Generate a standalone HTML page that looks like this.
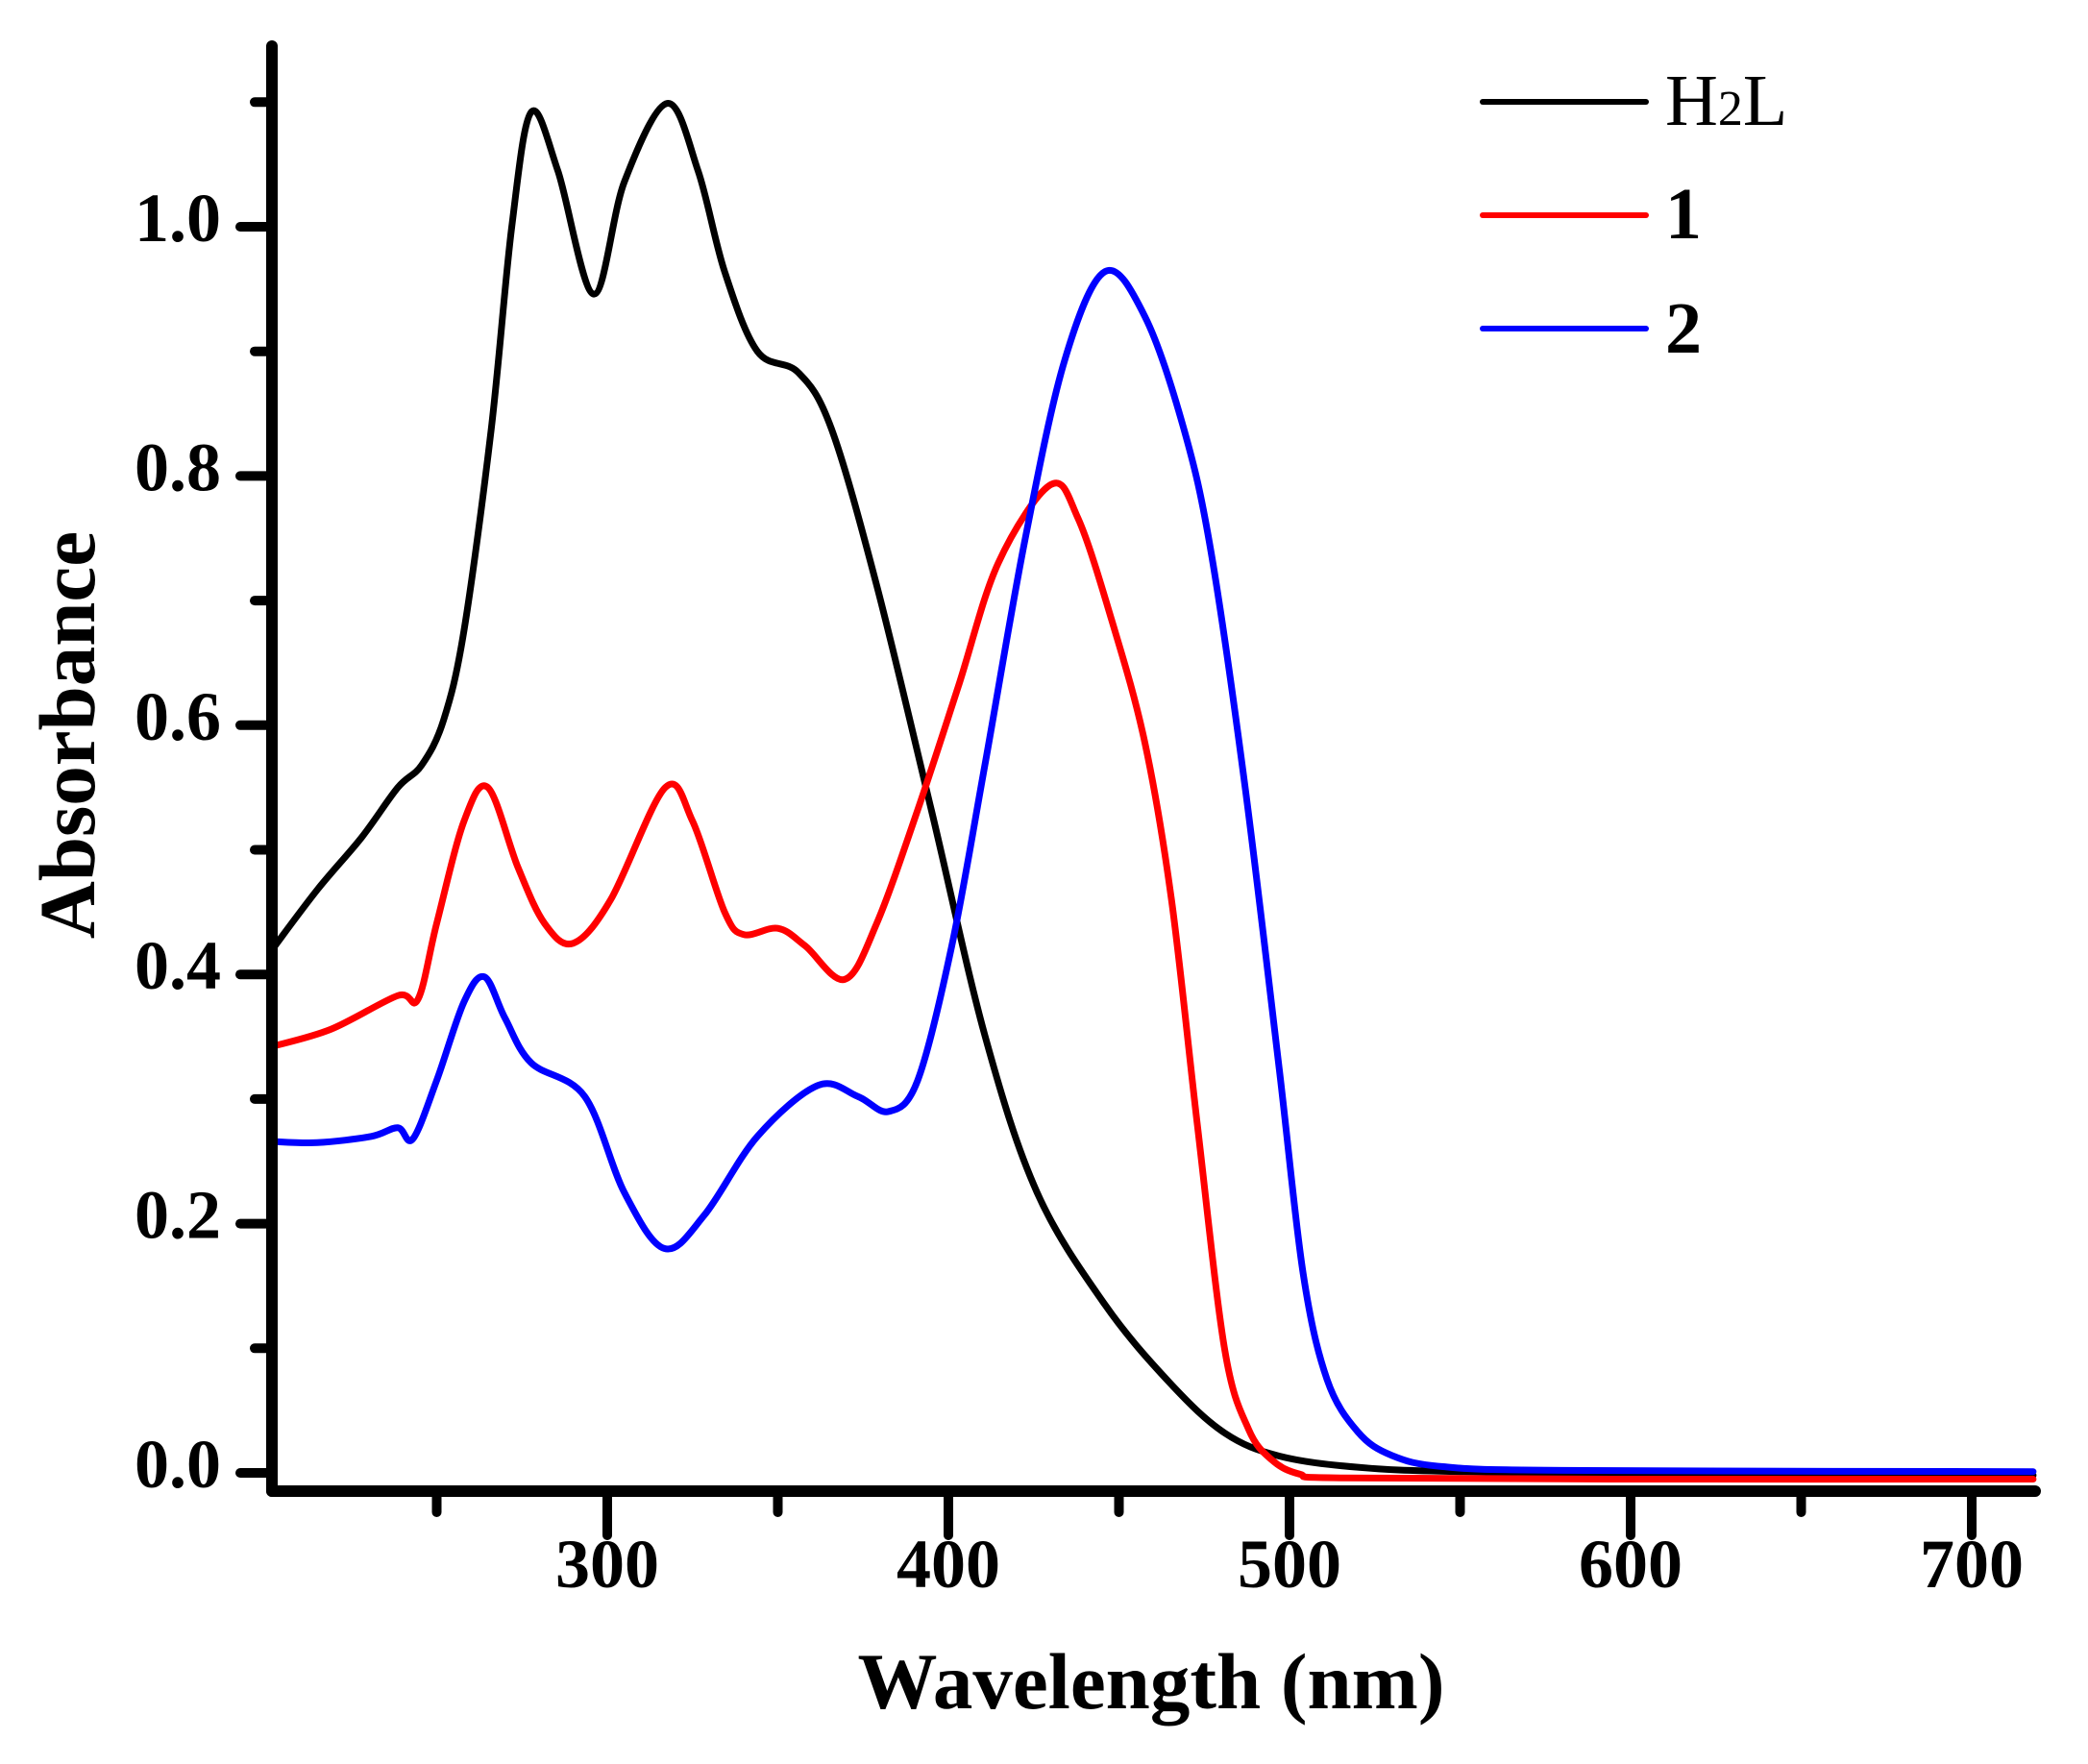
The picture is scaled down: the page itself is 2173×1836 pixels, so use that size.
<!DOCTYPE html>
<html><head><meta charset="utf-8"><style>
html,body{margin:0;padding:0;background:#fff;}
svg{display:block;}
text{font-family:"Liberation Serif",serif;}
</style></head><body>
<svg id="s" width="2173" height="1836" xmlns="http://www.w3.org/2000/svg">
<g id="curves" fill="none" stroke-width="7" stroke-linejoin="round" stroke-linecap="round"></g>
<g id="axes" stroke="#000" stroke-linecap="round"></g>
<g font-weight="bold" font-size="72" text-anchor="end" id="ylab"></g>
<g font-weight="bold" font-size="72" text-anchor="middle" id="xlab"></g>
<text x="1198" y="1778" font-size="83" font-weight="bold" text-anchor="middle">Wavelength (nm)</text>
<text transform="translate(98,765) rotate(-90)" font-size="83" font-weight="bold" text-anchor="middle">Absorbance</text>
<line x1="1543" y1="106" x2="1713" y2="106" stroke="#000" stroke-width="6" stroke-linecap="round"/>
<line x1="1543" y1="224" x2="1713" y2="224" stroke="#f00" stroke-width="6" stroke-linecap="round"/>
<line x1="1543" y1="342" x2="1713" y2="342" stroke="#00f" stroke-width="6" stroke-linecap="round"/>
<text x="1733" y="130" font-size="76">H<tspan font-size="52">2</tspan>L</text>
<text x="1733" y="248" font-size="76" font-weight="bold">1</text>
<text x="1733" y="367" font-size="76" font-weight="bold">2</text>
</svg>
<script>
var NS="http://www.w3.org/2000/svg";
function X(n){return 632+(n-300)*3.55;}
function Y(a){return 1533-1297*a;}
function el(p,t,at,txt){var e=document.createElementNS(NS,t);for(var k in at)e.setAttribute(k,at[k]);if(txt!==undefined)e.textContent=txt;p.appendChild(e);return e;}
var ax=document.getElementById('axes');
el(ax,'line',{x1:283,y1:48,x2:283,y2:1552,'stroke-width':12});
el(ax,'line',{x1:283,y1:1552,x2:2118,y2:1552,'stroke-width':12});
var yl=document.getElementById('ylab');
for(var i=0;i<=11;i++){var y=Y(i/10);var maj=i%2==0;
 el(ax,'line',{x1:maj?250:265,y1:y,x2:283,y2:y,'stroke-width':10});
 if(maj)el(yl,'text',{x:230,y:y+15},(i/10).toFixed(1));}
var xl=document.getElementById('xlab');
for(var n=250;n<=700;n+=50){var x=X(n);var maj=n%100==0;
 el(ax,'line',{x1:x,y1:1552,x2:x,y2:maj?1598:1574,'stroke-width':10});
 if(maj)el(xl,'text',{x:x,y:1652},String(n));}
function path(pts){var P=pts.map(function(p){return[X(p[0]),Y(p[1])];});
 var d="M"+P[0][0]+","+P[0][1];
 for(var i=0;i<P.length-1;i++){var p0=P[i-1]||P[i],p1=P[i],p2=P[i+1],p3=P[i+2]||P[i+1];
  var c1x=p1[0]+(p2[0]-p0[0])/6,c1y=p1[1]+(p2[1]-p0[1])/6,c2x=p2[0]-(p3[0]-p1[0])/6,c2y=p2[1]-(p3[1]-p1[1])/6;
  d+=" C"+c1x+","+c1y+" "+c2x+","+c2y+" "+p2[0]+","+p2[1];}
 return d;}
var black=[[201.5,.419],[215,.468],[228,.51],[238.6,.55],[245.6,.568],[252,.604],[258,.676],[266,.838],[272,1.0],[277.7,1.092],[285.5,1.045],[296,.946],[305,1.036],[317.6,1.099],[326.6,1.045],[334.4,.964],[344,.90],[356,.883],[365.7,.838],[379,.712],[395,.532],[410.7,.351],[426,.225],[445.9,.135],[465,.072],[481,.032],[497,.0135],[520,.0045],[550,.001],[620,-.001],[718,-.002]];
var red=[[201.5,.342],[219,.356],[238.6,.383],[244.5,.38],[250,.441],[258,.523],[265,.55],[273.8,.486],[281.6,.441],[290,.425],[301,.46],[317,.55],[325,.523],[334.4,.45],[340,.432],[350,.437],[358,.423],[369.6,.396],[379,.441],[391,.532],[402.9,.631],[414.6,.73],[430,.793],[438,.766],[447.8,.685],[457.6,.586],[465.4,.46],[473,.279],[481,.099],[488,.035],[495,.01],[503,-.001],[515,-.004],[600,-.005],[718,-.005]];
var blue=[[201.5,.266],[215,.265],[230.8,.27],[238.6,.277],[243,.268],[250,.315],[258,.378],[264,.398],[270,.365],[277.7,.329],[293.4,.302],[305,.225],[316.8,.18],[328.5,.207],[344,.27],[361.8,.311],[373.5,.302],[382.5,.29],[391,.315],[401,.423],[410.7,.568],[422.4,.748],[434,.892],[445.9,.964],[457.6,.928],[469,.838],[477,.739],[487,.55],[497,.324],[504,.16],[511,.075],[520,.033],[530,.014],[545,.005],[580,.002],[718,.001]];
var g=document.getElementById('curves');
el(g,'path',{d:path(black),stroke:'#000'});
el(g,'path',{d:path(red),stroke:'#f00'});
el(g,'path',{d:path(blue),stroke:'#00f'});
</script>
</body></html>
